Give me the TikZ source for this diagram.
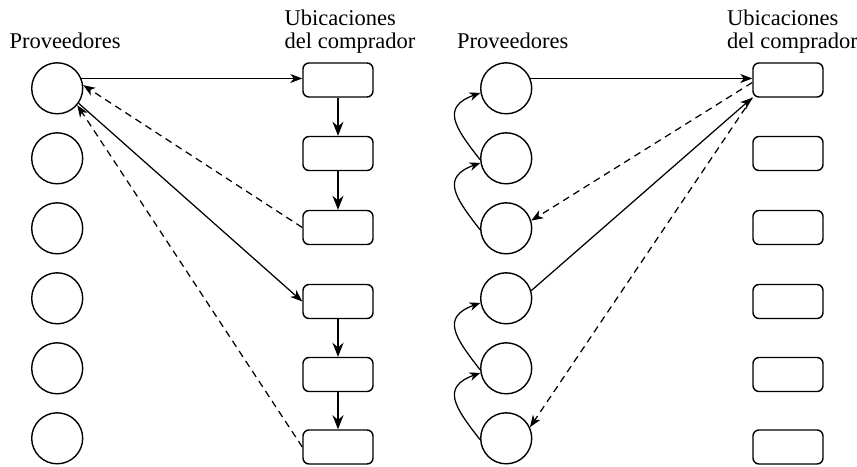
\documentclass[tikz,border=0pt]{standalone}
\usepackage{fontspec}
\setmainfont{Liberation Serif}
\usetikzlibrary{arrows.meta}
\begin{document}
\begin{tikzpicture}[x=1pt,y=-1pt,
  sup/.style={circle, draw, line width=1.4pt, minimum size=51pt, inner sep=0pt},
  loc/.style={rectangle, rounded corners=6pt, draw, line width=1.4pt, minimum width=70pt, minimum height=34pt, inner sep=0pt},
  lbl/.style={font=\fontsize{22.5}{23}\selectfont, inner sep=0pt, align=left},
  tipa/.style={-{Stealth[length=12pt,width=9pt,inset=3.5pt]}},
  flow/.style={line width=1.25pt, tipa},
  back/.style={line width=1.25pt, dash pattern=on 7pt off 5pt, tipa},
  chain/.style={line width=1.8pt, -{Stealth[length=14pt,width=11pt,inset=4.5pt]}},
  loopa/.style={line width=1.25pt, -{Stealth[length=11pt,width=8.5pt,inset=3.5pt]}},
  ]
\useasboundingbox (0,0) rectangle (857,466);
% labels
\node[lbl, anchor=base west] (tp1) at (9.3,48.3) {Proveedores};
\node[lbl, anchor=base west] (tu1) at (284.5,48.3) {Ubicaciones\\del comprador};
\node[lbl, anchor=base west] (tp2) at (457,48.3) {Proveedores};
\node[lbl, anchor=base west] (tu2) at (727,48.3) {Ubicaciones\\del comprador};
% nodes
\foreach \i/\y in {1/88.3,2/158.3,3/228.3,4/298.3,5/368.3,6/438.3}{
  \node[sup] (p\i) at (57.2,\y) {};
  \node[sup] (q\i) at (506.2,\y) {};
}
\foreach \i/\y in {1/80,2/153.5,3/227.5,4/301.5,5/374.5,6/447}{
  \node[loc] (r\i) at (338,\y) {};
  \node[loc] (s\i) at (788,\y) {};
}
% left arrows
\draw[flow] (p1.22) -- (p1.22 -| r1.west);
\draw[chain] (r1) -- (r2);
\draw[chain] (r2) -- (r3);
\draw[back] (r3.west) -- (p1.7);
\draw[flow] (p1.-35) -- (r4.west);
\draw[chain] (r4) -- (r5);
\draw[chain] (r5) -- (r6);
\draw[back] (r6.west) -- (p1.-40);
% right arrows
\draw[flow] (q1.22) -- (q1.22 -| s1.west);
\draw[back] (s1.184) -- (q3.17);
\draw[flow] (q4.17) -- (s1.south west);
\draw[back] (s1.south west) -- (q6.25);
\draw[loopa] (q2.183) to[out=128,in=200,looseness=1.6] (q1.190);
\draw[loopa] (q3.183) to[out=128,in=200,looseness=1.6] (q2.190);
\draw[loopa] (q5.183) to[out=128,in=200,looseness=1.6] (q4.190);
\draw[loopa] (q6.183) to[out=128,in=200,looseness=1.6] (q5.190);
\end{tikzpicture}
\end{document}
